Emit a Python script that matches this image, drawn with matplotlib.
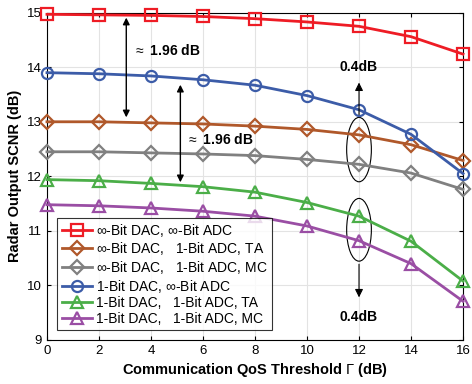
import matplotlib.pyplot as plt
from matplotlib.patches import Ellipse

plt.rcParams['font.family'] = ['Liberation Sans', 'DejaVu Sans']
plt.rcParams['mathtext.fontset'] = 'custom'
plt.rcParams['mathtext.rm'] = 'Liberation Sans'

# QoS threshold (dB)
gamma = [0, 2, 4, 6, 8, 10, 12, 14, 16]

# radar output SCNR (dB) per configuration
inf_dac_inf_adc = [14.97, 14.96, 14.95, 14.93, 14.89, 14.83, 14.75, 14.56, 14.24]
inf_dac_1adc_ta = [13.00, 13.00, 12.98, 12.96, 12.92, 12.86, 12.76, 12.58, 12.29]
inf_dac_1adc_mc = [12.45, 12.45, 12.43, 12.41, 12.38, 12.31, 12.22, 12.06, 11.76]
one_dac_inf_adc = [13.90, 13.88, 13.84, 13.77, 13.67, 13.48, 13.22, 12.77, 12.05]
one_dac_1adc_ta = [11.94, 11.92, 11.87, 11.81, 11.71, 11.52, 11.27, 10.81, 10.08]
one_dac_1adc_mc = [11.48, 11.46, 11.42, 11.36, 11.27, 11.09, 10.82, 10.40, 9.71]

labels = [r'$\infty$-Bit DAC, $\infty$-Bit ADC',
          r'$\infty$-Bit DAC,   1-Bit ADC, TA',
          r'$\infty$-Bit DAC,   1-Bit ADC, MC',
          r'1-Bit DAC, $\infty$-Bit ADC',
          '1-Bit DAC,   1-Bit ADC, TA',
          '1-Bit DAC,   1-Bit ADC, MC']

fig = plt.figure(figsize=(4.72, 3.84), dpi=100)
ax = fig.add_axes([0.0995, 0.1146, 0.8815, 0.8524])

series = [(inf_dac_inf_adc, '#EE1C25', 's'),
          (inf_dac_1adc_ta, '#B0582A', 'D'),
          (inf_dac_1adc_mc, '#808080', 'D'),
          (one_dac_inf_adc, '#3C5CA8', 'o'),
          (one_dac_1adc_ta, '#4BAE48', '^'),
          (one_dac_1adc_mc, '#9A4EA4', '^')]

for (vals, col, mk), lab in zip(series, labels):
    ms = 7 if mk == 'D' else 8
    ax.plot(gamma, vals, color=col, marker=mk, markersize=ms, markerfacecolor='none',
            markeredgewidth=1.6, linewidth=2, label=lab, clip_on=False, zorder=3)

ax.set_xlim(0, 16)
ax.set_ylim(9, 15)
ax.set_xticks(range(0, 17, 2))
ax.set_yticks(range(9, 16))
ax.grid(True, color='#e3e3e3', linewidth=0.8)
ax.set_axisbelow(True)
ax.tick_params(direction='in', labelsize=9.5, length=3, top=True, right=True)
ax.set_xlabel(r'Communication QoS Threshold $\Gamma$ (dB)', fontsize=10.5, fontweight='bold', labelpad=3)
ax.set_ylabel('Radar Output SCNR (dB)', fontsize=10.5, fontweight='bold', labelpad=4)

# double arrows
ax.annotate('', xy=(3.05, 14.96), xytext=(3.05, 13.03),
            arrowprops=dict(arrowstyle='<|-|>', color='black', lw=1, mutation_scale=10))
ax.text(3.3, 14.3, r'$\approx$ 1.96 dB', fontsize=10, fontweight='bold', va='center')
ax.annotate('', xy=(5.13, 13.73), xytext=(5.13, 11.84),
            arrowprops=dict(arrowstyle='<|-|>', color='black', lw=1, mutation_scale=10))
ax.text(5.35, 12.67, r'$\approx$ 1.96 dB', fontsize=10, fontweight='bold', va='center')

# ellipses and 0.4dB arrows
ax.add_patch(Ellipse((12, 12.49), 0.95, 1.18, fill=False, edgecolor='black', lw=0.8))
ax.annotate('', xy=(12, 13.77), xytext=(12, 13.08),
            arrowprops=dict(arrowstyle='-|>', color='black', lw=0.8, mutation_scale=12))
ax.text(12, 14.0, '0.4dB', fontsize=10, fontweight='bold', ha='center', va='center')

ax.add_patch(Ellipse((12, 11.02), 0.95, 1.15, fill=False, edgecolor='black', lw=0.8))
ax.annotate('', xy=(12, 9.73), xytext=(12, 10.44),
            arrowprops=dict(arrowstyle='-|>', color='black', lw=0.8, mutation_scale=12))
ax.text(12, 9.42, '0.4dB', fontsize=10, fontweight='bold', ha='center', va='center')

leg = ax.legend(loc='lower left', bbox_to_anchor=(0.025, 0.03), fontsize=10, frameon=True,
                fancybox=False, edgecolor='black', handlelength=2.2, labelspacing=0.12,
                borderpad=0.3, handletextpad=0.3, borderaxespad=0)
leg.get_frame().set_linewidth(0.8)
leg.set_zorder(5)

fig.savefig('out.png', dpi=100)
